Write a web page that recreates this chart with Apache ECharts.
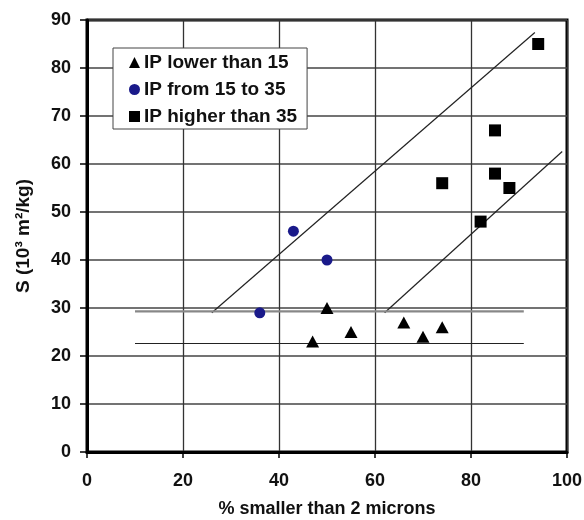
<!DOCTYPE html>
<html>
<head>
<meta charset="utf-8">
<script src="https://cdn.jsdelivr.net/npm/echarts@6/dist/echarts.min.js"></script>
<style>
  html, body { margin: 0; padding: 0; background: #fff; }
  #chart { width: 584px; height: 520px; }
</style>
</head>
<body>
<div id="chart"></div>
<script>
// ---- data ----
const ipLow = [[47, 23], [50, 30], [55, 25], [66, 27], [70, 24], [74, 26]];
const ipMid = [[36, 29], [43, 46], [50, 40]];
const ipHigh = [[94, 85], [85, 67], [74, 56], [85, 58], [88, 55], [82, 48]];

// guide lines drawn on the chart
const upperDiag = [[26, 29], [93.3, 87.4]];
const lowerDiag = [[62, 29], [99, 62.6]];
const upperFlat = [[10, 29.3], [91, 29.3]];
const lowerFlat = [[10, 22.6], [91, 22.6]];

const seriesNames = ['IP lower than 15', 'IP from 15 to 35', 'IP higher than 35'];

const font = '"Liberation Sans", Arial, sans-serif';
const chart = echarts.init(document.getElementById('chart'));

function guide(data, color, width) {
    return {
        type: 'line',
        data: data,
        symbol: 'none',
        silent: true,
        lineStyle: { color: color, width: width },
        z: 1
    };
}

chart.setOption({
    animation: false,
    textStyle: { fontFamily: font },
    grid: {
        left: 87, right: 17, top: 20, bottom: 68,
        show: true, borderColor: '#000', borderWidth: 3,
        outerBoundsMode: 'none'
    },
    legend: {
        orient: 'vertical',
        left: 113, top: 48,
        padding: [5, 10, 3, 16],
        itemGap: 8,
        itemWidth: 11, itemHeight: 11,
        backgroundColor: '#fff',
        borderColor: '#444',
        borderWidth: 1,
        borderRadius: 0,
        textStyle: { fontFamily: font, fontWeight: 'bold', fontSize: 19, color: '#111', padding: [0, 0, 0, -1] },
        data: [
            { name: seriesNames[0], icon: 'triangle' },
            { name: seriesNames[1], icon: 'circle' },
            { name: seriesNames[2], icon: 'rect' }
        ]
    },
    xAxis: {
        type: 'value',
        min: 0, max: 100, interval: 20,
        name: '% smaller than 2 microns',
        nameLocation: 'middle',
        nameGap: 48,
        nameTextStyle: { fontFamily: font, fontWeight: 'bold', fontSize: 18, color: '#111' },
        axisLine: { show: true, lineStyle: { color: '#000', width: 3 } },
        axisTick: { show: true, length: 6, lineStyle: { color: '#000', width: 1.5 } },
        axisLabel: { margin: 20, fontFamily: font, fontWeight: 'bold', fontSize: 18, color: '#111' },
        splitLine: { show: true, lineStyle: { color: '#333', width: 1.3 } }
    },
    yAxis: {
        type: 'value',
        min: 0, max: 90, interval: 10,
        name: 'S (10³ m²/kg)',
        nameLocation: 'middle',
        nameGap: 54,
        nameTextStyle: { fontFamily: font, fontWeight: 'bold', fontSize: 19, color: '#111' },
        axisLine: { show: true, lineStyle: { color: '#000', width: 3 } },
        axisTick: { show: true, length: 7, lineStyle: { color: '#000', width: 1.5 } },
        axisLabel: { margin: 16, fontFamily: font, fontWeight: 'bold', fontSize: 18, color: '#111' },
        splitLine: { show: true, lineStyle: { color: '#444', width: 1.6 } }
    },
    series: [
        guide(upperDiag, '#222', 1.2),
        guide(lowerDiag, '#222', 1.2),
        guide(upperFlat, '#888', 2.4),
        guide(lowerFlat, '#222', 1.1),
        {
            name: seriesNames[0], type: 'scatter', data: ipLow,
            symbol: 'triangle', symbolSize: [13, 12],
            itemStyle: { color: '#000', opacity: 1 }, z: 3
        },
        {
            name: seriesNames[1], type: 'scatter', data: ipMid,
            symbol: 'circle', symbolSize: 11,
            itemStyle: { color: '#1a1a8a', opacity: 1 }, z: 3
        },
        {
            name: seriesNames[2], type: 'scatter', data: ipHigh,
            symbol: 'rect', symbolSize: 12,
            itemStyle: { color: '#000', opacity: 1 }, z: 3
        }
    ]
});
</script>
</body>
</html>
